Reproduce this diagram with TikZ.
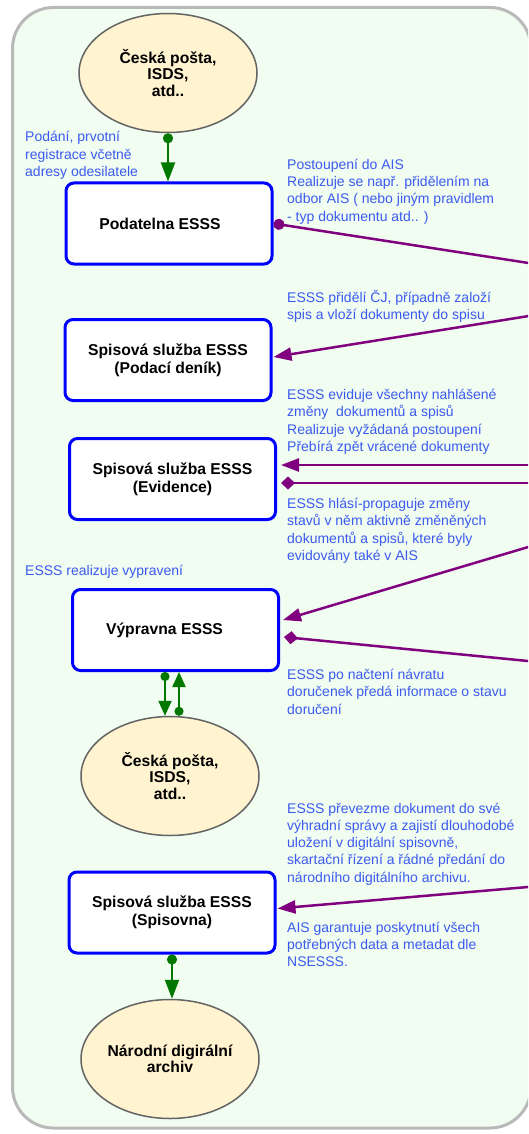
\documentclass[tikz,border=0pt]{standalone}
\usepackage{fontspec}
\setmainfont{Liberation Sans}
\usetikzlibrary{shapes.geometric,arrows.meta,calc}
\definecolor{bgfill}{RGB}{240,253,240}
\definecolor{bgline}{RGB}{185,185,185}
\definecolor{ellfill}{RGB}{255,243,208}
\definecolor{ellline}{RGB}{100,100,100}
\definecolor{gconn}{RGB}{0,120,0}
\definecolor{pconn}{RGB}{128,0,128}
\definecolor{btext}{RGB}{60,90,240}
\begin{document}
\begin{tikzpicture}[x=1pt,y=-1pt,
  procbox/.style={draw=blue, line width=3pt, rounded corners=8pt, fill=white,
    minimum width=206pt, minimum height=81pt, inner sep=0pt,
    font=\fontsize{15.7}{18}\selectfont\bfseries, align=center},
  extent/.style={ellipse, draw=ellline, line width=1.5pt, fill=ellfill,
    minimum width=178pt, minimum height=119pt, inner sep=0pt,
    font=\fontsize{15.7}{16.5}\selectfont\bfseries, align=center},
  note/.style={anchor=base west, inner sep=0pt, text=btext, align=left,
    font=\fontsize{14}{17.3}\selectfont},
  gflow/.style={draw=gconn, line width=2pt,
    {Circle[length=10pt]}-{Triangle[length=19pt,width=14pt]}},
  gflowsmall/.style={draw=gconn, line width=2pt,
    {Circle[length=9pt]}-{Triangle[length=15pt,width=13pt]}},
  pflow/.style={draw=pconn, line width=2.5pt},
  parrow/.style={pflow, -{Triangle[length=18pt,width=13pt]}},
  pdot/.style={pflow, {Circle[length=11pt]}-},
  pdiam/.style={pflow, {Diamond[length=14pt,width=13pt]}-},
]
\clip (0,0) rectangle (528,1134);
\fill[white] (0,0) rectangle (528,1134);
\draw[draw=bgline, fill=bgfill, line width=3pt, rounded corners=41pt] (12.5,7.5) rectangle (531,1128);

% shapes
\node[extent] (e1) at (168,73) {Česká pošta,\\ISDS,\\atd..};
\node[procbox] (b1) at (169,223.5) {Podatelna ESSS\hspace*{18pt}};
\node[procbox] (b2) at (168,360) {Spisová služba ESSS\\(Podací deník)};
\node[procbox] (b3) at (172.5,479) {Spisová služba ESSS\\(Evidence)};
\node[procbox] (b4) at (175.5,630) {Výpravna ESSS\hspace*{22pt}};
\node[extent] (e2) at (170,776) {Česká pošta,\\ISDS,\\atd..};
\node[procbox] (b5) at (172,912.5) {Spisová služba ESSS\\(Spisovna)};
\node[extent] (e3) at (170,1059) {Národní digirální\\archiv};

% green connectors
\draw[gflow] (e1.south) -- (e1.south |- b1.north);
\coordinate (g2a) at ($(b4.south)+(-10.5,0)$);
\coordinate (g2b) at ($(b4.south)+(3.5,0)$);
\draw[gflowsmall] (g2a) -- (g2a |- e2.north);
\draw[gflowsmall] (g2b |- e2.north) -- (g2b);
\draw[gflow] (b5.south) -- (b5.south |- e3.north);

% purple connectors (free ends at the right edge)
\coordinate (r1) at (535,264);
\coordinate (r2) at (535,315);
\coordinate (r3) at (535,465);
\coordinate (r4) at (535,483);
\coordinate (r5) at (535,545);
\coordinate (r6) at (535,661.7);
\coordinate (r7) at (535,886.4);
\draw[pdot] (b1.east) -- (r1);
\draw[parrow] (r2) -- ($(b2.east)+(1,-3)$);
\draw[parrow] (r3) -- ($(b3.east |- r3)+(4,0)$);
\draw[pdiam] ($(b3.east |- r4)+(4,0)$) -- (r4);
\draw[parrow] (r5) -- ($(b4.east)+(3,-10)$);
\draw[pdiam] ($(b4.east)+(4,7)$) -- (r6);
\draw[parrow] (r7) -- ($(b5.east)+(1,-4)$);

% notes (placed at the baseline of their last line)
\node[note] (nA) at (25,176.6) {Podání, prvotní\\registrace včetně\\adresy odesilatele};
\node[note] (nB) at (287,221) {Postoupení do AIS\\Realizuje se např. přidělením na\\odbor AIS ( nebo jiným pravidlem\\- typ dokumentu atd.. )};
\node[note] (nC) at (287,319.3) {ESSS přidělí ČJ, případně založí\\spis a vloží dokumenty do spisu};
\node[note] (nD) at (287,451.5) {ESSS eviduje všechny nahlášené\\změny\ \ dokumentů a spisů\\Realizuje vyžádaná postoupení\\Přebírá zpět vrácené dokumenty};
\node[note] (nE) at (287,560.5) {ESSS hlásí-propaguje změny\\stavů v něm aktivně změněných\\dokumentů a spisů, které byly\\evidovány také v AIS};
\node[note] (nF) at (25,575) {ESSS realizuje vypravení};
\node[note] (nG) at (287,714) {ESSS po načtení návratu\\doručenek předá informace o stavu\\doručení};
\node[note] (nH) at (287,882.2) {ESSS převezme dokument do své\\výhradní správy a zajistí dlouhodobé\\uložení v digitální spisovně,\\skartační řízení a řádné předání do\\národního digitálního archivu.};
\node[note] (nI) at (287,966.6) {AIS garantuje poskytnutí všech\\potřebných data a metadat dle\\NSESSS.};
\end{tikzpicture}
\end{document}
